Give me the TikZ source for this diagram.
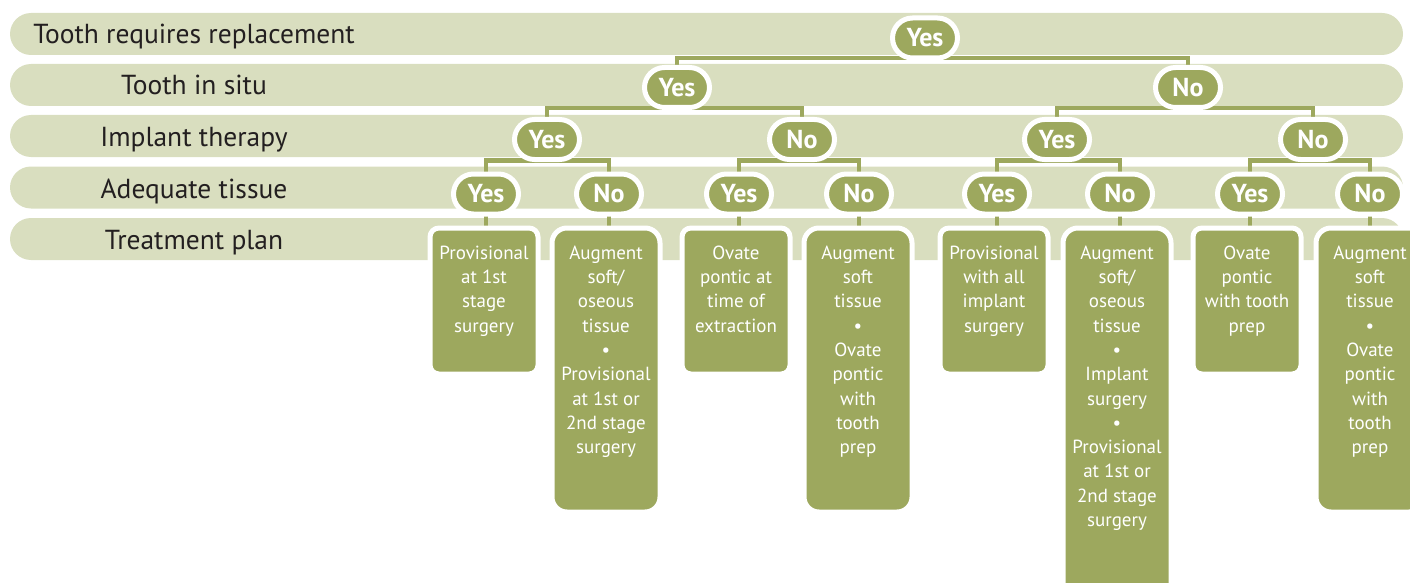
\documentclass[tikz,border=0pt]{standalone}
\usepackage{fontspec}
\setmainfont{PT Sans}
\usetikzlibrary{calc}
\definecolor{bandc}{RGB}{217,222,191}
\definecolor{leaf}{RGB}{157,168,94}
\definecolor{labelc}{RGB}{35,31,32}
\pgfdeclarelayer{bg}
\pgfdeclarelayer{mid}
\pgfsetlayers{bg,mid,main}
\begin{document}
\begin{tikzpicture}[x=1pt,y=-1pt,
  band/.style={fill=bandc, rounded corners=21pt},
  bandlbl/.style={font=\fontsize{27.5}{32}\selectfont, text=labelc, anchor=base, inner sep=0pt},
  choice/.style={fill=leaf, draw=white, line width=5pt, rounded corners=20pt,
    minimum width=65pt, minimum height=40pt, inner sep=0pt, outer sep=0pt,
    text=white, font=\bfseries\fontsize{26}{30}\selectfont},
  planbox/.style={fill=leaf, draw=white, line width=5pt, minimum width=108pt,
    anchor=north, inner sep=0pt, outer sep=0pt},
  shortbox/.style={planbox, minimum height=146pt, rounded corners=9pt},
  tallbox/.style={planbox, minimum height=284pt, rounded corners=15pt},
  longbox/.style={planbox, minimum height=380pt, rounded corners=15pt},
  plantxt/.style={text=white, align=center, anchor=north, inner sep=0pt,
    font=\fontsize{19}{24.3}\selectfont},
  conn/.style={draw=leaf, line width=4.5pt},
]
\useasboundingbox (0,0) rectangle (1410,583);

% bands
\begin{pgfonlayer}{bg}
\fill[band] (10,13) rectangle (1403,55);
\fill[band] (10,64) rectangle (1403,106);
\fill[band] (10,115) rectangle (1403,157);
\fill[band] (10,166.5) rectangle (1403,208.5);
\fill[band] (10,218) rectangle (1403,260);
\end{pgfonlayer}

% row labels
\node[bandlbl] (r1) at (194,44) {Tooth requires replacement};
\node[bandlbl] (r2) at (194,95) {Tooth in situ};
\node[bandlbl] (r3) at (194,146.5) {Implant therapy};
\node[bandlbl] (r4) at (194,198) {Adequate tissue};
\node[bandlbl] (r5) at (194,249.5) {Treatment plan};

% decision pills
\node[choice] (a) at (925,38) {Yes};
\node[choice] (b1) at (677,87.5) {Yes};
\node[choice] (b2) at (1188,87.5) {No};
\node[choice] (c1) at (547,139.5) {Yes};
\node[choice] (c2) at (802,139.5) {No};
\node[choice] (c3) at (1057,139.5) {Yes};
\node[choice] (c4) at (1313,139.5) {No};
\node[choice] (d1) at (486,194) {Yes};
\node[choice] (d2) at (609,194) {No};
\node[choice] (d3) at (739,194) {Yes};
\node[choice] (d4) at (859,194) {No};
\node[choice] (d5) at (997,194) {Yes};
\node[choice] (d6) at (1120,194) {No};
\node[choice] (d7) at (1250,194) {Yes};
\node[choice] (d8) at (1370,194) {No};

% treatment boxes
\node[shortbox] (e1) at (484,228) {};
\node[tallbox]  (e2) at (606,228) {};
\node[shortbox] (e3) at (736,228) {};
\node[tallbox]  (e4) at (858,228) {};
\node[shortbox] (e5) at (994,228) {};
\node[longbox]  (e6) at (1117,228) {};
\node[shortbox] (e7) at (1247,228) {};
\node[tallbox]  (e8) at (1370,228) {};

\node[plantxt] (t1) at ($(e1.north)+(0,17.5)$) {Provisional\\at 1st\\stage\\surgery};
\node[plantxt] (t2) at ($(e2.north)+(0,17.5)$) {Augment\\soft/\\oseous\\tissue\\•\\Provisional\\at 1st or\\2nd stage\\surgery};
\node[plantxt] (t3) at ($(e3.north)+(0,17.5)$) {Ovate\\pontic at\\time of\\extraction};
\node[plantxt] (t4) at ($(e4.north)+(0,17.5)$) {Augment\\soft\\tissue\\•\\Ovate\\pontic\\with\\tooth\\prep};
\node[plantxt] (t5) at ($(e5.north)+(0,17.5)$) {Provisional\\with all\\implant\\surgery};
\node[plantxt] (t6) at ($(e6.north)+(0,17.5)$) {Augment\\soft/\\oseous\\tissue\\•\\Implant\\surgery\\•\\Provisional\\at 1st or\\2nd stage\\surgery};
\node[plantxt] (t7) at ($(e7.north)+(0,17.5)$) {Ovate\\pontic\\with tooth\\prep};
\node[plantxt] (t8) at ($(e8.north)+(0,17.5)$) {Augment\\soft\\tissue\\•\\Ovate\\pontic\\with\\tooth\\prep};

% connectors
\begin{pgfonlayer}{mid}
\draw[conn] (a) -- (a |- 0,58);
\draw[conn] (b1) -- (b1 |- 0,58) -- (b2 |- 0,58) -- (b2);
\draw[conn] (b1) -- (b1 |- 0,108);
\draw[conn] (c1) -- (c1 |- 0,108) -- (c2 |- 0,108) -- (c2);
\draw[conn] (b2) -- (b2 |- 0,108);
\draw[conn] (c3) -- (c3 |- 0,108) -- (c4 |- 0,108) -- (c4);
\draw[conn] (c1) -- (c1 |- 0,160.5);
\draw[conn] (d1) -- (d1 |- 0,160.5) -- (d2 |- 0,160.5) -- (d2);
\draw[conn] (c2) -- (c2 |- 0,160.5);
\draw[conn] (d3) -- (d3 |- 0,160.5) -- (d4 |- 0,160.5) -- (d4);
\draw[conn] (c3) -- (c3 |- 0,160.5);
\draw[conn] (d5) -- (d5 |- 0,160.5) -- (d6 |- 0,160.5) -- (d6);
\draw[conn] (c4) -- (c4 |- 0,160.5);
\draw[conn] (d7) -- (d7 |- 0,160.5) -- (d8 |- 0,160.5) -- (d8);
\draw[conn] (d1) -- (d1 |- e1.north);
\draw[conn] (d2) -- (d2 |- e2.north);
\draw[conn] (d3) -- (d3 |- e3.north);
\draw[conn] (d4) -- (d4 |- e4.north);
\draw[conn] (d5) -- (d5 |- e5.north);
\draw[conn] (d6) -- (d6 |- e6.north);
\draw[conn] (d7) -- (d7 |- e7.north);
\draw[conn] (d8) -- (d8 |- e8.north);
\end{pgfonlayer}
\end{tikzpicture}
\end{document}
